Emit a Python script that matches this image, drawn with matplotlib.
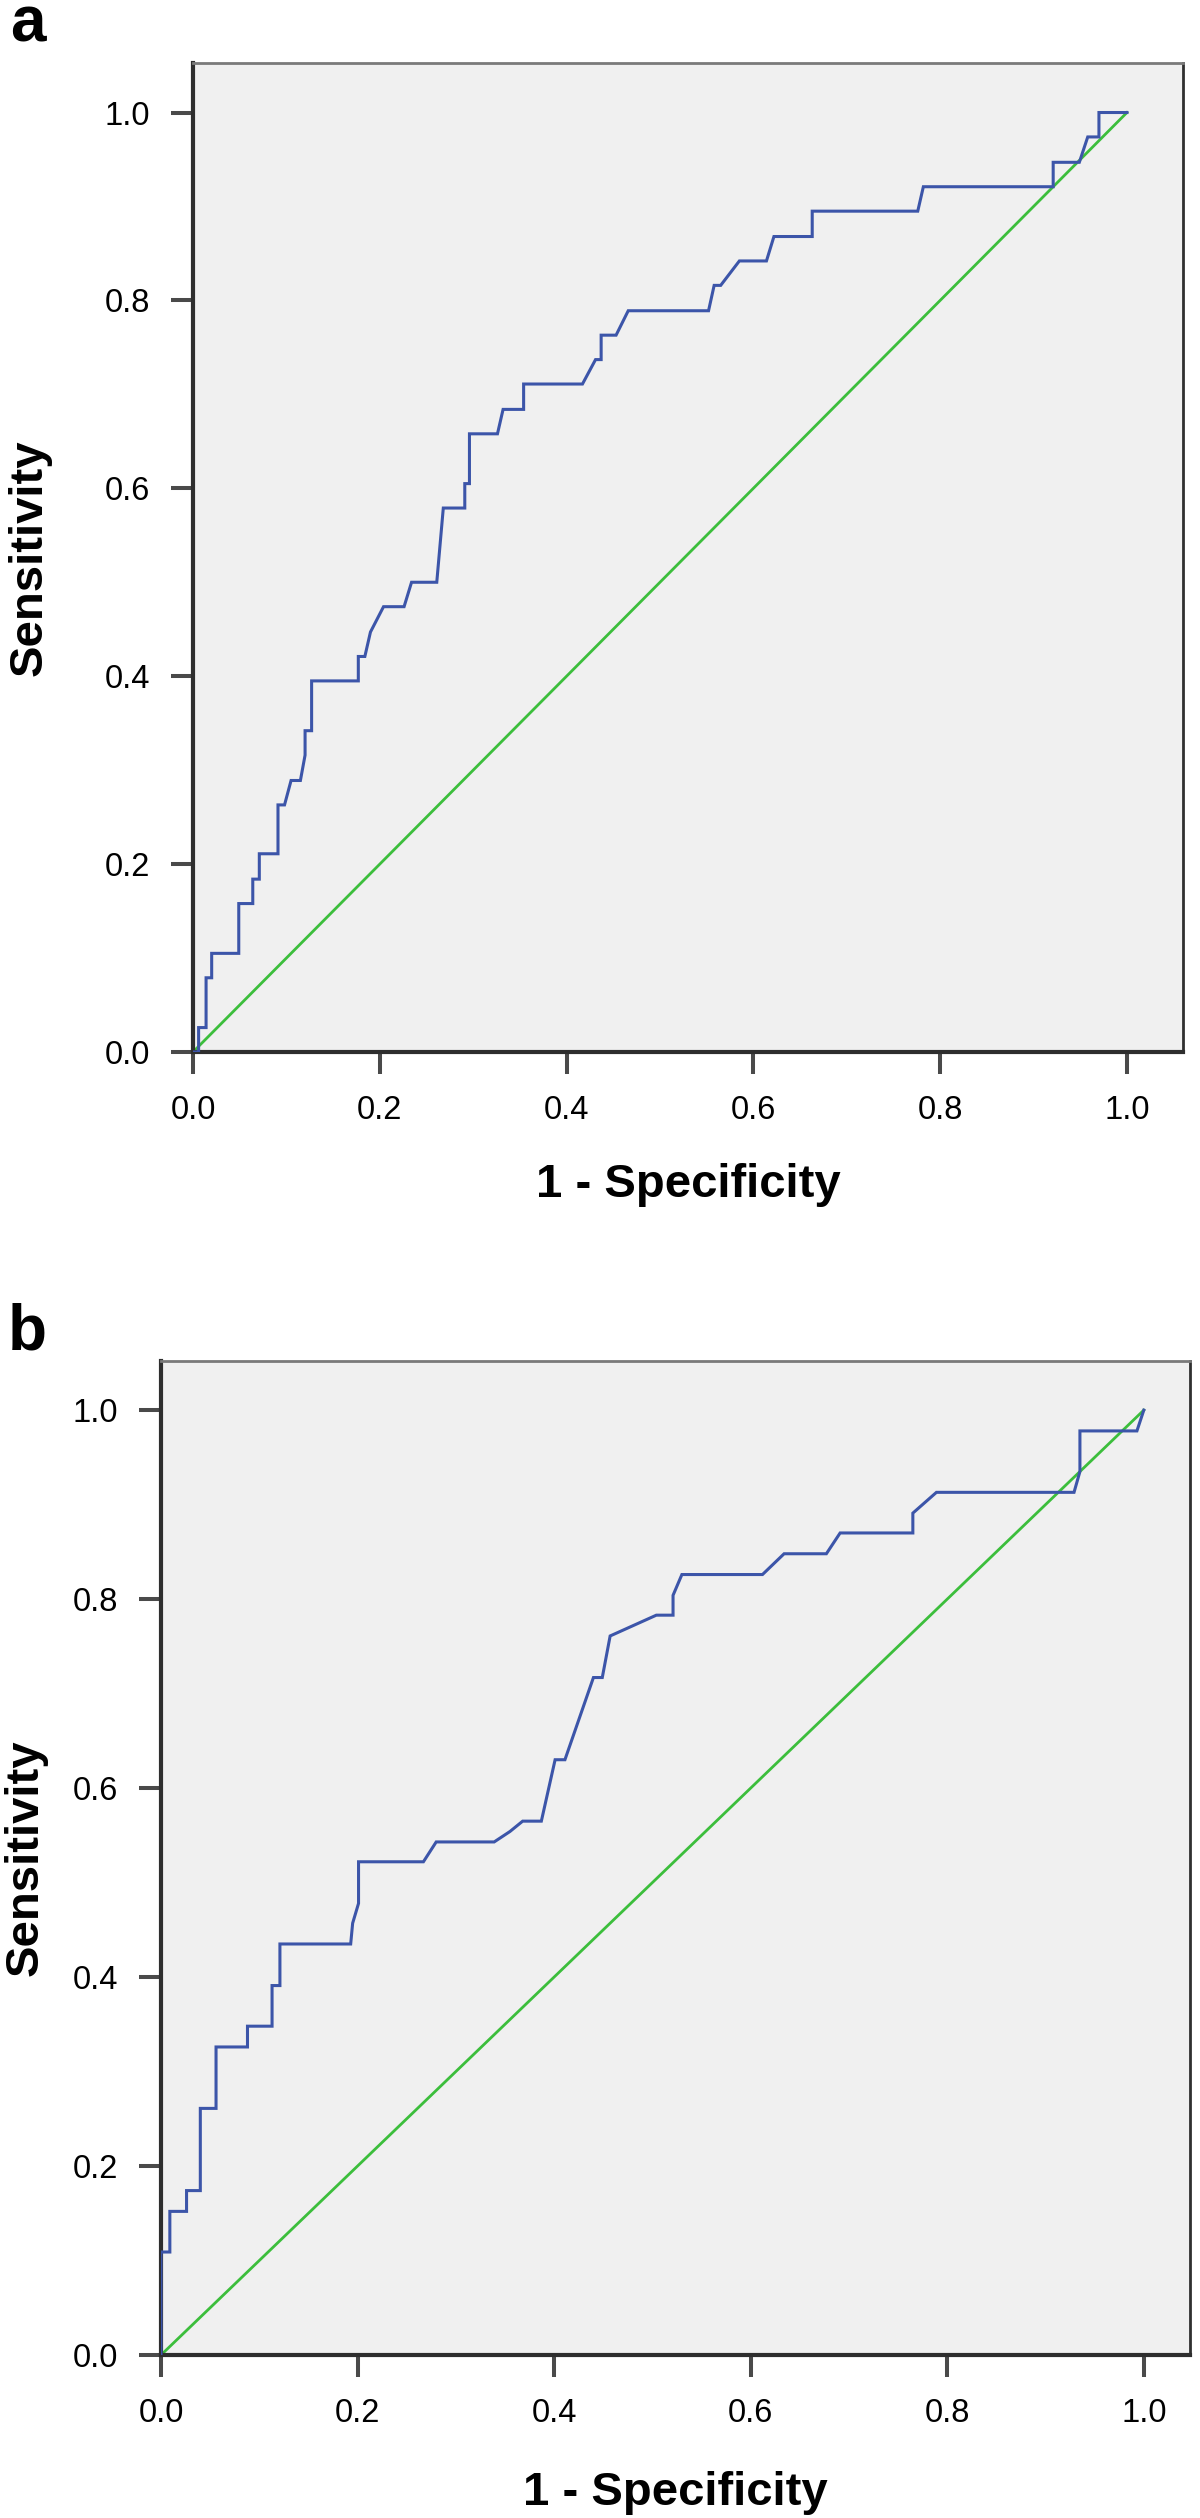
import matplotlib
matplotlib.use('Agg')
import matplotlib.pyplot as plt

# ---------------- data ----------------
fpr_a = [0.0, 0.006, 0.006, 0.014, 0.014, 0.020, 0.020, 0.049, 0.049, 0.064, 0.064, 0.071, 0.071,
         0.091, 0.091, 0.098, 0.105, 0.115, 0.120, 0.120, 0.127, 0.127, 0.177, 0.177, 0.184, 0.190,
         0.204, 0.226, 0.234, 0.261, 0.268, 0.291, 0.291, 0.296, 0.296, 0.326, 0.332, 0.354, 0.354,
         0.417, 0.431, 0.437, 0.437, 0.453, 0.466, 0.552, 0.558, 0.565, 0.585, 0.614, 0.622, 0.663,
         0.663, 0.776, 0.782, 0.921, 0.921, 0.949, 0.958, 0.970, 0.970, 1.0]
tpr_a = [0.0, 0.0, 0.026, 0.026, 0.079, 0.079, 0.105, 0.105, 0.158, 0.158, 0.184, 0.184, 0.211,
         0.211, 0.263, 0.263, 0.289, 0.289, 0.316, 0.342, 0.342, 0.395, 0.395, 0.421, 0.421, 0.447,
         0.474, 0.474, 0.500, 0.500, 0.579, 0.579, 0.605, 0.605, 0.658, 0.658, 0.684, 0.684, 0.711,
         0.711, 0.737, 0.737, 0.763, 0.763, 0.789, 0.789, 0.816, 0.816, 0.842, 0.842, 0.868, 0.868,
         0.895, 0.895, 0.921, 0.921, 0.947, 0.947, 0.974, 0.974, 1.0, 1.0]

fpr_b = [0.0, 0.0, 0.009, 0.009, 0.026, 0.026, 0.040, 0.040, 0.056, 0.056, 0.088, 0.088, 0.113,
         0.113, 0.121, 0.121, 0.193, 0.195, 0.201, 0.201, 0.267, 0.280, 0.339, 0.355, 0.368, 0.387,
         0.401, 0.411, 0.440, 0.449, 0.457, 0.504, 0.521, 0.521, 0.530, 0.612, 0.634, 0.677, 0.691,
         0.765, 0.765, 0.789, 0.929, 0.935, 0.935, 0.993, 1.0]
tpr_b = [0.0, 0.109, 0.109, 0.152, 0.152, 0.174, 0.174, 0.261, 0.261, 0.326, 0.326, 0.348, 0.348,
         0.391, 0.391, 0.435, 0.435, 0.457, 0.478, 0.522, 0.522, 0.543, 0.543, 0.554, 0.565, 0.565,
         0.630, 0.630, 0.717, 0.717, 0.761, 0.783, 0.783, 0.804, 0.826, 0.826, 0.848, 0.848, 0.870,
         0.870, 0.891, 0.913, 0.913, 0.935, 0.978, 0.978, 1.0]

ref_line = [0.0, 1.0]
ticks = [0.0, 0.2, 0.4, 0.6, 0.8, 1.0]
tick_labels = ["0.0", "0.2", "0.4", "0.6", "0.8", "1.0"]
panel_labels = ["a", "b"]
xlabel = "1 - Specificity"
ylabel = "Sensitivity"

# ---------------- layout ----------------
W, H = 1200, 2518
fig = plt.figure(figsize=(W / 100, H / 100), dpi=100)
FONT = ['Liberation Sans', 'DejaVu Sans']
plt.rcParams['font.family'] = FONT

BLUE = '#3C55A9'
GREEN = '#3CBE3C'
BG = '#F0F0F0'


def add_panel(box_px, xmax, ymax, fpr, tpr, letter, letter_xy, ylab_x, xlab_y):
    x0, y0, x1, y1 = box_px
    ax = fig.add_axes([x0 / W, 1 - y1 / H, (x1 - x0) / W, (y1 - y0) / H])
    ax.set_facecolor(BG)
    ax.plot(ref_line, ref_line, color=GREEN, lw=2.0, zorder=2)
    ax.plot(fpr, tpr, color=BLUE, lw=2.2, zorder=3, solid_joinstyle='miter')
    ax.set_xlim(0, xmax)
    ax.set_ylim(0, ymax)
    ax.set_xticks(ticks)
    ax.set_xticklabels(tick_labels)
    ax.set_yticks(ticks)
    ax.set_yticklabels(tick_labels)
    ax.tick_params(direction='out', length=16, width=2.9, color='#4A4A4A',
                   labelsize=23.5, pad=15, labelcolor='black')
    for s in ['left', 'bottom']:
        ax.spines[s].set_color('#2E2E2E')
        ax.spines[s].set_linewidth(3.0)
    ax.spines['top'].set_color('#7A7A7A')
    ax.spines['top'].set_linewidth(2.0)
    ax.spines['right'].set_color('#303030')
    ax.spines['right'].set_linewidth(2.0)
    # panel letter
    fig.text(letter_xy[0] / W, 1 - letter_xy[1] / H, letter, fontsize=46,
             fontweight='bold', ha='left', va='baseline')
    # axis labels
    fig.text(ylab_x / W, 1 - ((y0 + y1) / 2) / H, ylabel, fontsize=34, fontweight='bold',
             rotation=90, ha='center', va='center')
    fig.text(((x0 + x1) / 2) / W, 1 - xlab_y / H, xlabel, fontsize=34, fontweight='bold',
             ha='center', va='baseline')
    return ax


add_panel((193, 63, 1183, 1052), 1.060, 1.0527, fpr_a, tpr_a, panel_labels[0], (10, 42), 30, 1197)
add_panel((161, 1361, 1190, 2355), 1.047, 1.052, fpr_b, tpr_b, panel_labels[1], (8, 1350), 26, 2505)

fig.savefig('out.png', dpi=100, facecolor='white')
